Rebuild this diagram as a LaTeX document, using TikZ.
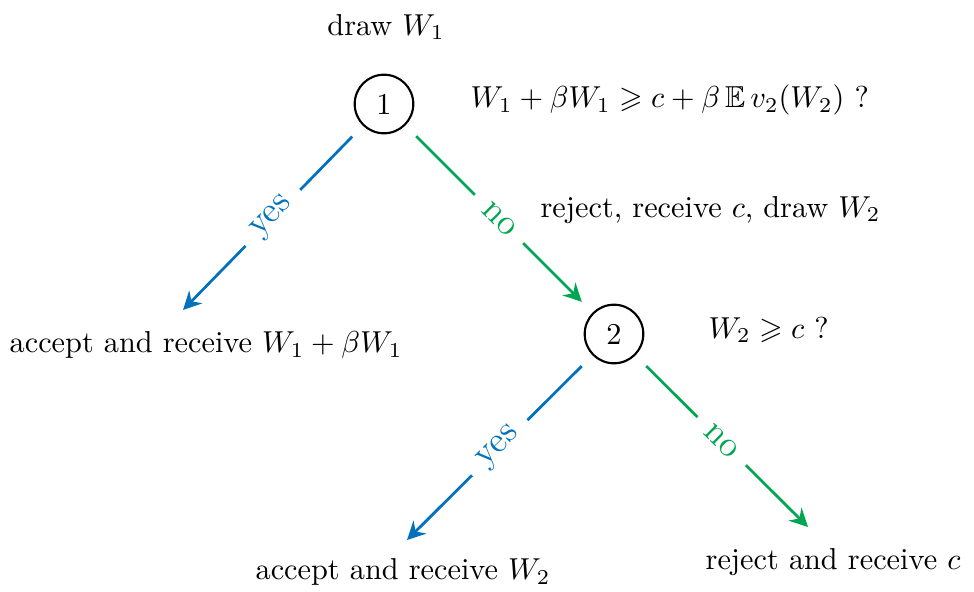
\documentclass[tikz,border=0pt]{standalone}
\usepackage{amsmath,amssymb}
\usepackage{tikz}
\usepackage{xcolor}
\usetikzlibrary{arrows.meta}

\definecolor{yesblue}{RGB}{0,114,189}
\definecolor{nogreen}{RGB}{0,166,81}

\begin{document}
\begin{tikzpicture}[x=1.16cm, y=1.16cm,
    state/.style={circle, draw, line width=0.7pt, minimum size=0.68cm, inner sep=0pt},
    txt/.style={inner sep=0pt},
    branch/.style={line width=0.9pt, -{Stealth[length=6pt,width=6pt,inset=2pt]}, shorten <=5pt},
    yesarr/.style={branch, draw=yesblue},
    noarr/.style={branch, draw=nogreen},
    lab/.style={midway, sloped, fill=white, inner xsep=5pt, inner ysep=1pt, font=\large}]

    \useasboundingbox (0,0) rectangle (9.74,-5.92);

    % Decision nodes
    \node[state] (n1) at (3.84,-1.04) {1};
    \node[state] (n2) at (6.14,-3.34) {2};

    % Questions and notes
    \node[txt] (draw1) at (3.86,-0.27) {draw $W_1$};
    \node[txt, anchor=west] (q1) at (4.70,-1.00) {$W_1 + \beta W_1 \geqslant c + \beta\, \mathbb{E}\, v_2(W_2)$ ?};
    \node[txt, anchor=west] (rej1) at (5.40,-2.10) {reject, receive $c$, draw $W_2$};
    \node[txt, anchor=west] (q2) at (7.08,-3.30) {$W_2 \geqslant c$ ?};

    % Outcomes
    \node[txt] (acc1) at (2.06,-3.45) {accept and receive $W_1 + \beta W_1$};
    \node[txt] (acc2) at (4.03,-5.72) {accept and receive $W_2$};
    \node[txt] (rej2) at (8.33,-5.62) {reject and receive $c$};

    % Arrow ends
    \coordinate (e1) at (1.83,-3.10);
    \coordinate (e2) at (4.07,-5.40);
    \coordinate (e3) at (8.08,-5.27);

    % Branches
    \draw[yesarr] (n1) -- (e1) node[lab, text=yesblue] {yes};
    \draw[noarr, shorten >=5pt] (n1) -- (n2) node[lab, text=nogreen] {no};
    \draw[yesarr] (n2) -- (e2) node[lab, text=yesblue] {yes};
    \draw[noarr] (n2) -- (e3) node[lab, text=nogreen] {no};
\end{tikzpicture}
\end{document}
